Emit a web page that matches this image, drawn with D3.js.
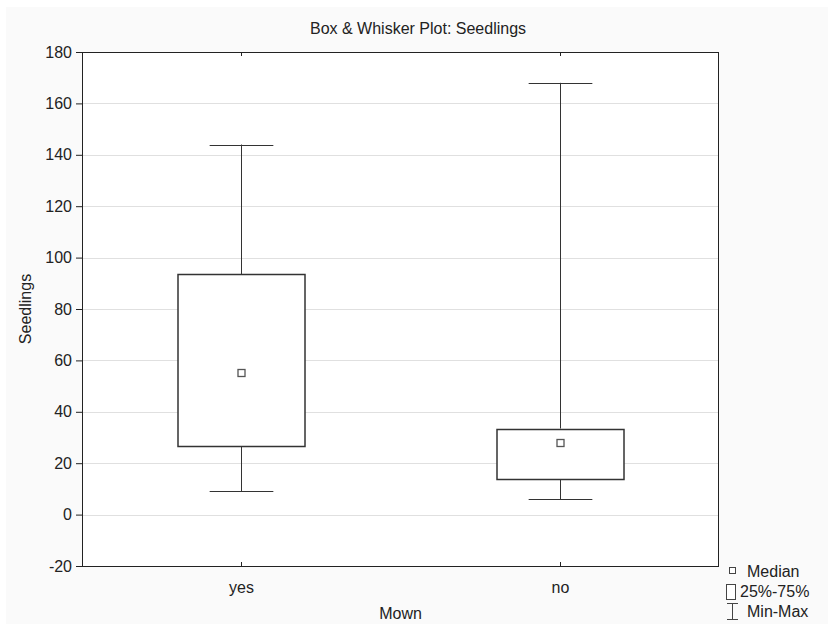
<!DOCTYPE html>
<html>
<head>
<meta charset="utf-8">
<script src="https://cdn.jsdelivr.net/npm/d3@7"></script>
<style>
  body { margin: 0; background: #fff; }
  svg text { font-family: "Liberation Sans", Arial, sans-serif; fill: #222; }
</style>
</head>
<body>
<svg id="chart" width="828" height="624"></svg>
<script>
// data
var groups = ["yes", "no"];
var mins = [9, 6];
var q1s = [26.5, 14];
var medians = [55, 28];
var q3s = [93.5, 33.5];
var maxs = [144, 168];
var yTicks = [-20, 0, 20, 40, 60, 80, 100, 120, 140, 160, 180];
var legendLabels = ["Median", "25%-75%", "Min-Max"];

var margin = { top: 52, right: 109, bottom: 58, left: 82 };
var W = 828, H = 624;
var width = W - margin.left - margin.right;
var height = H - margin.top - margin.bottom;
var fs = "16px";

var svg = d3.select("#chart");

// light panel behind everything
svg.append("rect").attr("x", 6).attr("y", 7).attr("width", W - 6).attr("height", H - 7)
  .attr("fill", "#fafafa");

var g = svg.append("g").attr("transform", "translate(" + margin.left + "," + margin.top + ")");

var y = d3.scaleLinear().domain([-20, 180]).range([height, 0]);
// categories sit at 1/4 and 3/4 of plot width
var x = d3.scaleBand().domain(groups).range([0, width]).padding(0);

g.append("rect").attr("width", width).attr("height", height).attr("fill", "#fff");

// grid
g.selectAll(".grid").data(yTicks.slice(1, -1)).enter().append("line")
  .attr("x1", 0).attr("x2", width)
  .attr("y1", function(d) { return Math.round(y(d)) + 0.5; })
  .attr("y2", function(d) { return Math.round(y(d)) + 0.5; })
  .attr("stroke", "#e0e0e0");

var yAxis = d3.axisLeft(y).tickValues(yTicks).tickSize(6).tickPadding(4)
  .tickFormat(function(d) { return String(d); });
var ya = g.append("g").call(yAxis);
ya.select(".domain").remove();
ya.selectAll("text").style("font-size", fs).attr("fill", "#222");
ya.selectAll("line").attr("stroke", "#222");

// category ticks (inside, bottom and top)
var bw = x.bandwidth();
groups.forEach(function(k) {
  var cx = Math.round(x(k) + bw / 2) + 0.5;
  g.append("line").attr("x1", cx).attr("x2", cx).attr("y1", height).attr("y2", height - 4).attr("stroke", "#222");
  g.append("line").attr("x1", cx).attr("x2", cx).attr("y1", 0).attr("y2", 4).attr("stroke", "#222");
  g.append("text").attr("x", cx).attr("y", height + 27).attr("text-anchor", "middle")
    .style("font-size", fs).text(k);
});

// frame
g.append("rect").attr("x", 0.5).attr("y", 0.5).attr("width", width - 1).attr("height", height)
  .attr("fill", "none").attr("stroke", "#222");

// boxes
var boxW = width * 0.2;
groups.forEach(function(k, i) {
  var cx = Math.round(x(k) + bw / 2) + 0.5;
  var b = g.append("g");
  b.append("line").attr("x1", cx).attr("x2", cx).attr("y1", y(maxs[i])).attr("y2", y(q3s[i])).attr("stroke", "#333");
  b.append("line").attr("x1", cx).attr("x2", cx).attr("y1", y(q1s[i])).attr("y2", y(mins[i])).attr("stroke", "#333");
  b.append("line").attr("x1", cx - boxW / 4).attr("x2", cx + boxW / 4)
    .attr("y1", Math.round(y(maxs[i])) + 0.5).attr("y2", Math.round(y(maxs[i])) + 0.5).attr("stroke", "#333");
  b.append("line").attr("x1", cx - boxW / 4).attr("x2", cx + boxW / 4)
    .attr("y1", Math.round(y(mins[i])) + 0.5).attr("y2", Math.round(y(mins[i])) + 0.5).attr("stroke", "#333");
  b.append("rect").attr("x", Math.round(cx - boxW / 2)).attr("y", Math.round(y(q3s[i])) + 0.5)
    .attr("width", Math.round(boxW)).attr("height", Math.round(y(q1s[i]) - y(q3s[i])))
    .attr("fill", "#fff").attr("stroke", "#333").attr("stroke-width", 1.5);
  b.append("rect").attr("x", Math.round(cx) - 4).attr("y", Math.round(y(medians[i])) - 3.5)
    .attr("width", 7).attr("height", 7).attr("fill", "#fff").attr("stroke", "#555").attr("stroke-width", 1.3);
});

// titles
svg.append("text").attr("x", 418).attr("y", 34).attr("text-anchor", "middle")
  .style("font-size", fs).text("Box & Whisker Plot: Seedlings");
svg.append("text").attr("x", margin.left + width / 2).attr("y", 619).attr("text-anchor", "middle")
  .style("font-size", fs).text("Mown");
svg.append("text").attr("transform", "translate(31," + (margin.top + height / 2) + ") rotate(-90)")
  .attr("text-anchor", "middle").style("font-size", fs).text("Seedlings");

// legend
var leg = svg.append("g");
leg.append("rect").attr("x", 729.5).attr("y", 567.5).attr("width", 6).attr("height", 6)
  .attr("fill", "#fff").attr("stroke", "#444");
leg.append("rect").attr("x", 726.5).attr("y", 584.5).attr("width", 9).attr("height", 15)
  .attr("fill", "#fff").attr("stroke", "#444");
leg.append("line").attr("x1", 732.5).attr("x2", 732.5).attr("y1", 603).attr("y2", 620).attr("stroke", "#444");
leg.append("line").attr("x1", 727).attr("x2", 738).attr("y1", 603.5).attr("y2", 603.5).attr("stroke", "#444");
leg.append("line").attr("x1", 727).attr("x2", 738).attr("y1", 619.5).attr("y2", 619.5).attr("stroke", "#444");
var legX = [747, 740, 747];
leg.selectAll("text.l").data(legendLabels).enter().append("text")
  .attr("x", function(d, i) { return legX[i]; })
  .attr("y", function(d, i) { return 577 + i * 20; })
  .style("font-size", fs).text(function(d) { return d; });
</script>
</body>
</html>
